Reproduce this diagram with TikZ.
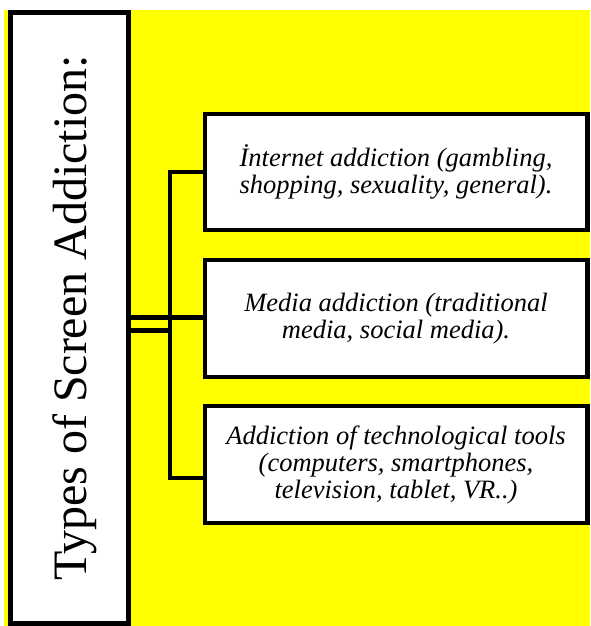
\documentclass[tikz,border=0pt]{standalone}
\usepackage{fontspec}
\setmainfont{Liberation Serif}
\definecolor{bgyellow}{RGB}{255,255,0}
\begin{document}
\begin{tikzpicture}[x=1pt,y=-1pt,
  box/.style={draw=black,fill=white,line width=4.8pt},
  itemtext/.style={align=center,font=\fontsize{26.5}{27}\selectfont\itshape},
  conn/.style={draw=black,line width=4.2pt}]
\useasboundingbox (0,0) rectangle (590,626);
\fill[white] (0,0) rectangle (590,626);
\fill[bgyellow] (4,10) rectangle (590,626);
% main box
\draw[box] (10.5,12.5) rectangle (128.5,623.5);
\coordinate (mainE) at (128.5,317.5);
\coordinate (mainE2) at (128.5,330.5);
\node[rotate=90,anchor=base,font=\fontsize{48}{52}\selectfont] (title) at (86,318) {Types of Screen Addiction:};
% item boxes
\draw[box] (205,114) rectangle (587.5,230);
\node[itemtext] (b1) at (396,172) {İnternet addiction (gambling,\\shopping, sexuality, general).};
\draw[box] (205,260) rectangle (587.5,377);
\node[itemtext] (b2) at (396,318.5) {Media addiction (traditional\\media, social media).};
\draw[box] (205,406) rectangle (587.5,523);
\node[itemtext] (b3) at (396,464.5) {Addiction of technological tools\\(computers, smartphones,\\television, tablet, VR..)};
\coordinate (b1W) at (202.75,172);
\coordinate (b2W) at (202.75,317.5);
\coordinate (b3W) at (202.75,478);
\coordinate (vTop) at (170,172);
\coordinate (vBot) at (170,478);
\coordinate (vMid) at (170,330.5);
% connectors
\draw[conn] (b1W) -- (vTop) -- (vBot) -- (b3W);
\draw[conn] (mainE) -- (b2W);
\draw[conn] (mainE2) -- (vMid);
\end{tikzpicture}
\end{document}
